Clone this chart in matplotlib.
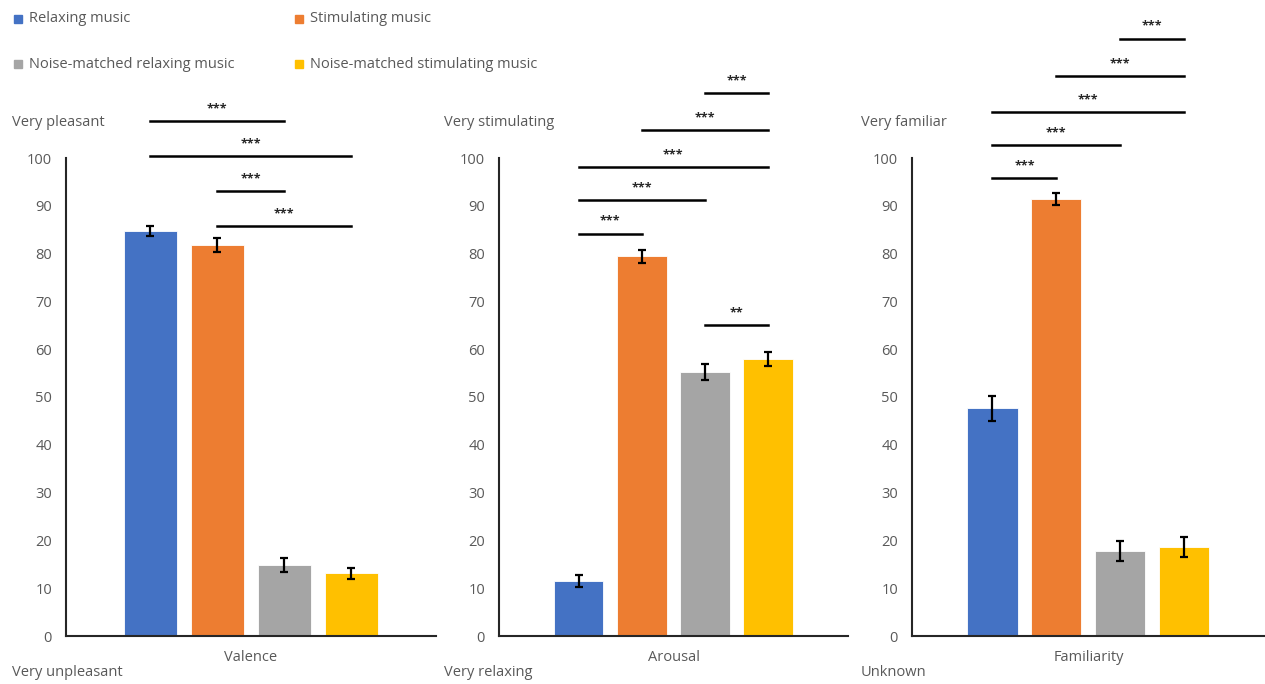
import matplotlib.pyplot as plt

plt.rcParams['font.family'] = ['Open Sans', 'DejaVu Sans']

conditions = ['Relaxing music', 'Stimulating music',
              'Noise-matched relaxing music', 'Noise-matched stimulating music']
colors = ['#4472C4', '#ED7D31', '#A5A5A5', '#FFC000']

scales = ['Valence', 'Arousal', 'Familiarity']
top_labels = ['Very pleasant', 'Very stimulating', 'Very familiar']
bottom_labels = ['Very unpleasant', 'Very relaxing', 'Unknown']

valence = [84.7, 81.8, 14.9, 13.1]
valence_err = [1.1, 1.5, 1.5, 1.2]
arousal = [11.5, 79.4, 55.2, 58.0]
arousal_err = [1.2, 1.4, 1.6, 1.5]
familiarity = [47.6, 91.4, 17.8, 18.7]
familiarity_err = [2.6, 1.3, 2.1, 2.1]

# significance brackets: (from bar, to bar, height, label)
valence_sig = [(0, 2, 107.7, '***'), (0, 3, 100.4, '***'), (1, 2, 93.0, '***'), (1, 3, 85.7, '***')]
arousal_sig = [(2, 3, 113.5, '***'), (1, 3, 105.8, '***'), (0, 3, 98.1, '***'),
               (0, 2, 91.2, '***'), (0, 1, 84.2, '***'), (2, 3, 65.0, '**')]
familiarity_sig = [(2, 3, 125.0, '***'), (1, 3, 117.2, '***'), (0, 3, 109.6, '***'),
                   (0, 2, 102.7, '***'), (0, 1, 95.8, '***')]

means = [valence, arousal, familiarity]
errors = [valence_err, arousal_err, familiarity_err]
sigs = [valence_sig, arousal_sig, familiarity_sig]

W, H = 1265, 684
fig = plt.figure(figsize=(W / 100, H / 100), dpi=100)

# axes extents in pixels: left, right
panels = [(66, 436), (499, 848), (912, 1265)]
y_top, y_bottom = 158, 636
text_color = '#595959'

offsets = [-0.272, -0.091, 0.09, 0.271]
bar_w = 0.142

for k, (left, right) in enumerate(panels):
    ax = fig.add_axes([left / W, 1 - y_bottom / H, (right - left) / W, (y_bottom - y_top) / H])
    ax.bar(offsets, means[k], width=bar_w, color=colors, edgecolor='white', linewidth=0.6)
    ax.errorbar(offsets, means[k], yerr=errors[k], fmt='none', ecolor='black',
                elinewidth=1.6, capsize=3, capthick=1.6)
    ax.set_xlim(-0.5, 0.5)
    ax.set_ylim(0, 100)
    ax.set_yticks(range(0, 101, 10))
    ax.tick_params(axis='y', length=0, labelsize=10.5, labelcolor=text_color, pad=10)
    ax.set_xticks([])
    for side in ['top', 'right']:
        ax.spines[side].set_visible(False)
    ax.spines['left'].set_linewidth(1.5)
    ax.spines['bottom'].set_linewidth(1.5)
    ax.spines['left'].set_color('#262626')
    ax.spines['bottom'].set_color('#262626')
    ax.set_xlabel(scales[k], fontsize=10.5, color=text_color, labelpad=10)

    for a, b, h, lab in sigs[k]:
        ax.plot([offsets[a], offsets[b]], [h, h], color='black', lw=1.8, clip_on=False)
        ax.text((offsets[a] + offsets[b]) / 2, h + 1.2, lab, ha='center', va='bottom',
                fontsize=9, color='#262626', fontweight='bold', clip_on=False)

    lx = (left - 54 + (0 if k == 0 else 0)) / W
    fig.text((12 if k == 0 else left - 55 if k == 1 else left - 51) / W, 1 - 123 / H,
             top_labels[k], fontsize=10.5, color=text_color, va='center')
    fig.text((12 if k == 0 else left - 55 if k == 1 else left - 51) / W, 1 - 672 / H,
             bottom_labels[k], fontsize=10.5, color=text_color, va='center')

# legend
legend_pos = [(14, 19), (295, 19), (14, 64), (295, 64)]
for (px, py), name, c in zip(legend_pos, conditions, colors):
    fig.patches.append(plt.Rectangle((px / W, 1 - (py + 4) / H), 8 / W, 8 / H,
                                     color=c, transform=fig.transFigure, figure=fig))
    fig.text((px + 15) / W, 1 - py / H, name, fontsize=10.5, color=text_color, va='center')

fig.savefig('out.png', dpi=100)
